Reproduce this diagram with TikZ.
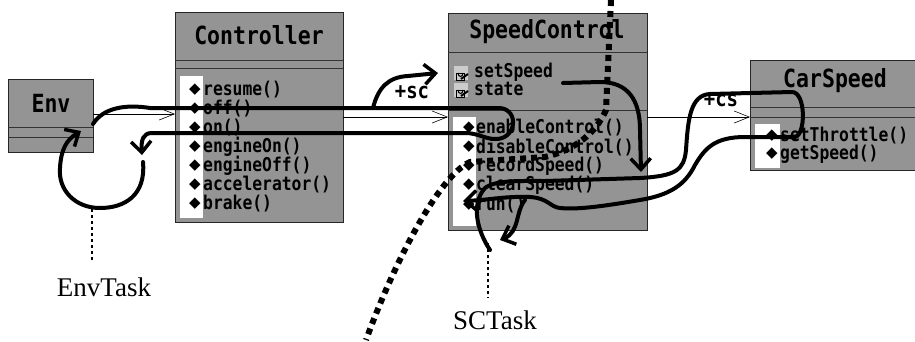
\documentclass[tikz,border=0pt]{standalone}
\usepackage{fontspec}
\setmainfont{Liberation Serif}
\newfontfamily\umlfont{DejaVu Sans Mono}[FakeStretch=0.86]
\newfontfamily\symfont{DejaVu Sans}
\usetikzlibrary{arrows.meta}
\tikzset{
  classbox/.style={draw=black!85, line width=0.8pt, fill=black!42, inner sep=0pt, outer sep=0pt, anchor=north west},
  sepline/.style={draw=black!80, line width=0.7pt},
  whitecol/.style={fill=white, draw=none},
  ctitle/.style={font=\umlfont\bfseries\fontsize{25}{25}\selectfont, inner sep=0pt},
  meth/.style={font=\umlfont\bfseries\fontsize{19}{19}\selectfont, anchor=west, inner sep=0pt},
  dia/.style={font=\symfont\fontsize{15}{15}\selectfont, inner sep=0pt},
  role/.style={font=\umlfont\bfseries\fontsize{22}{22}\selectfont, inner sep=0pt},
  tasklabel/.style={font=\fontsize{27}{27}\selectfont, inner sep=0pt},
  assoc/.style={line width=0.6pt, -{Straight Barb[length=15pt,width=12pt,line width=0.6pt]}},
  thread/.style={line width=4pt, line cap=round, line join=round},
  harrow/.style={thread, -{Straight Barb[length=11pt,width=20pt,line width=3.5pt]}},
  dotline/.style={line width=6pt, dash pattern=on 6pt off 5pt},
  taskline/.style={line width=1.3pt, dashed},
  lockicon/.pic={
    \fill[black!20] (-7,-6) rectangle (7,8);
    \draw[line width=1pt] (-5,1) rectangle (3,8);
    \draw[line width=1pt] (-3,1) arc[start angle=180, end angle=0, x radius=2.5pt, y radius=-3.5pt];
    \draw[line width=2pt] (0,7) -- (7,2);
  }
}
\begin{document}
\begin{tikzpicture}[x=1pt,y=-1pt]
\useasboundingbox (0,0) rectangle (915,341);
\fill[white] (0,0) rectangle (915,341);

% ---------- Env ----------
\node[classbox, minimum width=85pt, minimum height=73pt] (env) at (8,79) {};
\draw[sepline] (8,127) -- (93,127);
\draw[sepline] (8,137) -- (93,137);
\node[ctitle] (envt) at (51,103) {Env};

% ---------- Controller ----------
\node[classbox, minimum width=168pt, minimum height=210pt] (ctrl) at (175,12) {};
\draw[sepline] (175,60) -- (343,60);
\draw[sepline] (175,68) -- (343,68);
\fill[whitecol] (180,76) rectangle (203,218);
\node[ctitle] (ctrlt) at (259,35) {Controller};
\foreach \m/\y [count=\i] in {resume()/90,off()/109,on()/128,engineOn()/147,engineOff()/166,accelerator()/185,brake()/204}{
  \node[dia] (cd\i) at (195,\y) {◆};
  \node[meth] (cm\i) at (203,\y) {\m};
}

% ---------- SpeedControl ----------
\node[classbox, minimum width=199pt, minimum height=217pt] (sc) at (448,13) {};
\draw[sepline] (448,52) -- (647,52);
\draw[sepline] (448,110) -- (647,110);
\fill[whitecol] (453,117) rectangle (476,226);
\node[ctitle] (sct) at (547,32) {SpeedControl};
\pic at (461,72) {lockicon};
\pic at (461,89) {lockicon};
\node[meth] (sa1) at (474,72) {setSpeed};
\node[meth] (sa2) at (474,89) {state};
\foreach \m/\y [count=\i] in {enableControl()/128,disableControl()/147,recordSpeed()/166,clearSpeed()/185,run()/205}{
  \node[dia] (sd\i) at (469,\y) {◆};
  \node[meth] (sm\i) at (476,\y) {\m};
}

% ---------- CarSpeed ----------
\node[classbox, minimum width=170pt, minimum height=110pt] (cs) at (750,60) {};
\draw[sepline] (750,107) -- (915,107);
\draw[sepline] (750,117) -- (915,117);
\fill[whitecol] (755,124) rectangle (780,168);
\node[ctitle] (cst) at (835,81) {CarSpeed};
\foreach \m/\y [count=\i] in {setThrottle()/136,getSpeed()/154}{
  \node[dia] (csd\i) at (772,\y) {◆};
  \node[meth] (csm\i) at (780,\y) {\m};
}

% ---------- associations ----------
\coordinate (ya) at (0,114);
\coordinate (yb) at (0,117);
\draw[assoc] (env.east |- ya) -- (ctrl.west |- ya);
\draw[assoc] (ctrl.east |- yb) -- (sc.west |- yb);
\draw[assoc] (sc.east |- yb) -- (cs.west |- yb);
\node[role] (rsc) at (412,92) {+sc};
\node[role] (rcs) at (721,100) {+cs};

% ---------- task labels ----------
\node[tasklabel] (envtask) at (104,287) {EnvTask};
\node[tasklabel] (sctask) at (495,320) {SCTask};
\coordinate (et) at (92,209);
\coordinate (eb) at (92,262);
\draw[taskline] (et) -- (eb);
\coordinate (st) at (488,243);
\coordinate (sb) at (488,298);
\draw[taskline] (st) -- (sb);

% ---------- SCTask dotted boundary ----------
\draw[dotline] (611,0) -- (606,110) .. controls (596,133) and (575,150) .. (545,157) -- (470,162) .. controls (440,175) and (395,260) .. (366,340);

% ---------- EnvTask thread ----------
\draw[harrow] (93,124) .. controls (103,108) and (125,104) .. (150,108) -- (500,108)
  .. controls (520,110) and (516,140) .. (495,139) .. controls (485,139) and (478,133) .. (465,133)
  -- (152,133) .. controls (143,133) and (141,140) .. (142,155);
\draw[harrow] (143,162) .. controls (146,195) and (125,208) .. (100,208)
  .. controls (75,208) and (58,190) .. (60,168) .. controls (61,150) and (66,140) .. (81,131);
\draw[harrow] (373,108) .. controls (378,88) and (388,77) .. (408,76) -- (438,73);

% ---------- SCTask thread ----------
\draw[harrow] (563,83) -- (600,82) .. controls (628,82) and (640,100) .. (640,130) -- (641,172);
\draw[harrow] (490,250) .. controls (478,232) and (470,205) .. (485,188)
  .. controls (495,180) and (520,181) .. (545,181) -- (640,178)
  .. controls (676,176) and (684,170) .. (686,150) .. controls (688,120) and (690,95) .. (710,94)
  -- (792,92) .. controls (806,92) and (806,135) .. (795,137) -- (745,137)
  .. controls (715,137) and (705,148) .. (695,165) .. controls (685,185) and (670,195) .. (640,200)
  .. controls (610,205) and (580,210) .. (560,208) .. controls (550,207) and (548,198) .. (530,197)
  .. controls (505,196) and (490,200) .. (463,201);
\draw[harrow] (525,200) .. controls (515,212) and (520,232) .. (500,240);
\end{tikzpicture}
\end{document}
